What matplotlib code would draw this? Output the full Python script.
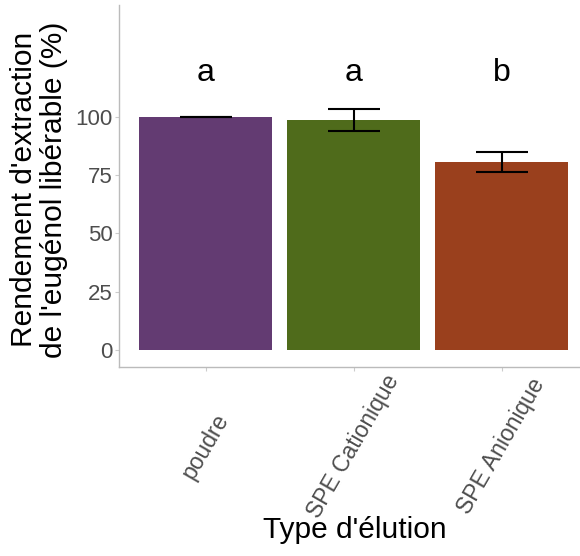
import matplotlib
matplotlib.use("Agg")
import matplotlib.pyplot as plt

categories = ["poudre", "SPE Cationique", "SPE Anionique"]
values = [100.0, 98.5, 80.7]
errors = [0.0, 4.7, 4.3]
letters = ["a", "a", "b"]
colors = ["#633b72", "#4f6b1b", "#9a401d"]

plt.rcParams['font.family'] = ['Liberation Sans', 'DejaVu Sans']

fig = plt.figure(figsize=(5.8, 5.56), dpi=100)
ax = fig.add_axes([119/580, 1-367/556, 1-119/580, (367-5)/556])
x = [1, 2, 3]
ax.bar(x, values, width=0.9, color=colors, zorder=2)
ax.errorbar(x, values, yerr=errors, fmt='none', ecolor='black', elinewidth=1.5,
            capsize=18.5, capthick=1.5, zorder=3)
for xi, lab in zip(x, letters):
    ax.text(xi, 119, lab, ha='center', va='center', fontsize=23, color='black')

ax.set_xlim(0.412, 3.53)
ax.set_ylim(-7.3, 148)
ax.set_yticks([0, 25, 50, 75, 100])
ax.set_xticks(x)
ax.set_xticklabels(categories, rotation=60, ha='center', va='center', rotation_mode='anchor')
ax.tick_params(axis='both', labelcolor='#4d4d4d', color='#cccccc', length=3)
ax.tick_params(axis='y', labelsize=16, pad=1.5)
ax.tick_params(axis='x', labelsize=16.5, pad=54)
for s in ['top', 'right']:
    ax.spines[s].set_visible(False)
for s in ['left', 'bottom']:
    ax.spines[s].set_color('#bbbbbb')
    ax.spines[s].set_linewidth(1)
ax.set_ylabel("Rendement d'extraction\nde l'eugénol libérable (%)", fontsize=21.5,
              va='center', ha='center', linespacing=1.05)
ax.yaxis.set_label_coords((39-119)/461, 0.49)
ax.set_xlabel("Type d'élution", fontsize=21.5, va='center', ha='center')
ax.xaxis.set_label_coords((355-119)/461, (367-530)/362)
fig.savefig("out.png", dpi=100)
